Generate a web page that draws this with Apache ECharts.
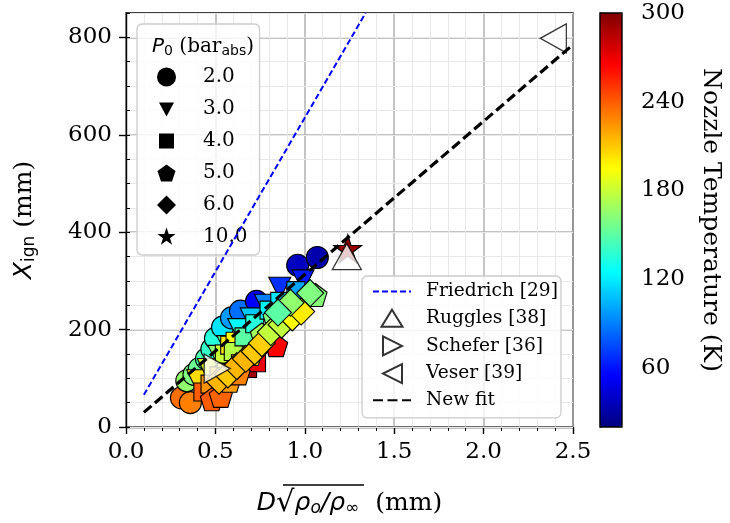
<!DOCTYPE html>
<html><head><meta charset="utf-8">
<script src="https://cdn.jsdelivr.net/npm/echarts@6/dist/echarts.min.js"></script>
<style>html,body{margin:0;padding:0;background:#fff}#c{width:730px;height:523px}</style>
</head><body><div id="c"></div>
<script>
// ---- data: [x = D*sqrt(rho_o/rho_inf) (mm), X_ign (mm), nozzle temperature (K)]
const p2 = [[0.31,60,235],[0.36,50,230],[0.34,95,165],[0.38,108,160],[0.41,120,155],[0.45,140,145],[0.48,160,140],[0.50,182,135],[0.54,205,118],[0.59,224,98],[0.64,238,85],[0.73,258,55],[0.96,332,38],[1.07,348,32]];
const p3 = [[0.40,95,205],[0.46,118,185],[0.52,145,165],[0.57,165,150],[0.63,200,125],[0.70,222,110],[0.78,250,90],[0.86,285,68],[0.99,300,62],[0.55,100,230],[0.62,135,210]];
const p4 = [[0.43,72,240],[0.47,88,225],[0.52,105,215],[0.56,112,205],[0.55,150,180],[0.58,168,200],[0.61,176,195],[0.60,155,175],[0.66,185,150],[0.72,212,135],[0.80,240,122],[0.86,258,118],[0.95,280,100],[0.68,120,290],[0.73,132,270],[0.79,175,195],[0.64,130,220]];
const p5 = [[0.48,57,240],[0.53,64,238],[0.58,95,222],[0.63,110,230],[0.70,150,205],[0.76,190,170],[0.83,225,160],[0.90,245,158],[1.06,271,162],[0.84,168,265]];
const p6 = [[0.52,95,215],[0.57,108,210],[0.62,125,215],[0.67,140,215],[0.72,155,210],[0.76,172,208],[0.81,195,178],[0.87,210,178],[0.93,225,195],[0.98,237,200],[0.92,255,165],[0.85,235,150],[1.03,275,160]];
const p10 = [[1.24,366,295]];
const ruggles = [[1.235,350]];
const schefer = [[0.51,120]];
const veser = [[2.39,798]];
const friedrichLine = [[0.1,66],[1.34,850]];
const newFitLine = [[0.1,30],[2.5,785]];
const pressureNames = ['2.0','3.0','4.0','5.0','6.0','10.0'];
const refNames = ['Friedrich [29]','Ruggles [38]','Schefer [36]','Veser [39]','New fit'];
const yTicks = [0,200,400,600,800];
const cbTicks = [60,120,180,240,300];
const tRange = [20,300];

// ---- styling
const jet = ['#000080','#0000ff','#0080ff','#00ffff','#80ff80','#ffff00','#ff8000','#ff0000','#800000'];
function hex2rgb(h){return [parseInt(h.substr(1,2),16),parseInt(h.substr(3,2),16),parseInt(h.substr(5,2),16)];}
const jetRGB = jet.map(hex2rgb);
function jetColor(T){
  let t = (T - tRange[0])/(tRange[1]-tRange[0]); t = Math.max(0, Math.min(1, t));
  const p = t*(jetRGB.length-1), i = Math.min(Math.floor(p), jetRGB.length-2), f = p - i;
  const a = jetRGB[i], b = jetRGB[i+1];
  return 'rgb(' + a.map((v,k)=>Math.round(v + (b[k]-v)*f)).join(',') + ')';
}
const SERIF = 'DejaVu Serif', SANS = 'DejaVu Sans';
const downTri = 'path://M0,0 L2,0 L1,1.8 Z';
const pent = 'path://M0,-1 L0.951,-0.309 L0.588,0.809 L-0.588,0.809 L-0.951,-0.309 Z';
const star = 'path://M0,-1 L0.2245,-0.309 L0.951,-0.309 L0.363,0.118 L0.588,0.809 L0,0.382 L-0.588,0.809 L-0.363,0.118 L-0.951,-0.309 L-0.2245,-0.309 Z';
const rightTri = 'path://M0,0 L1.8,1 L0,2 Z';
const leftTri = 'path://M1.8,0 L0,1 L1.8,2 Z';
// legend icons (padded boxes so shapes keep their size)
const lgDown = 'path://M0,0 M2,3 L17,3 L9.5,17 Z M19,19';
const lgRect = 'path://M0,0 M2,2 L17,2 L17,17 L2,17 Z M19,19';
const lgPent = 'path://M0,0 M9.5,1 L18.5,7.5 L15,18 L4,18 L0.5,7.5 Z M19,19';
const lgDiam = 'path://M0,0 M9.5,0 L19,9.5 L9.5,19 L0,9.5 Z M19,19';
const lgStar = 'path://M0,0 M9.5,0 L11.7,6.6 L18.6,6.6 L13,10.7 L15.1,17.2 L9.5,13.2 L3.9,17.2 L6,10.7 L0.4,6.6 L7.3,6.6 Z M19,19';
const lgUp = 'path://M0,0 M19,1 L29.5,18 L8.5,18 Z M38,19';
const lgRight = 'path://M0,0 M10,0 L29,9.5 L10,19 Z M38,19';
const lgLeft = 'path://M0,0 M29,0 L10,9.5 L29,19 Z M38,19';

const groups = [p2,p3,p4,p5,p6,p10];
const syms = ['circle',downTri,'rect',pent,'diamond',star];
const sizes = [22,22,18,23,27,28];
const lgIcons = ['circle',lgDown,lgRect,lgPent,lgDiam,lgStar];

const series = groups.map((g,i)=>({
  name: pressureNames[i], type:'scatter', symbol:syms[i], symbolSize:sizes[i],
  xAxisIndex:0, yAxisIndex:0, z:2, silent:true,
  data:g.map(d=>({value:d, itemStyle:{color:jetColor(d[2]), borderColor:'#000', borderWidth:1.1}})),
  itemStyle:{borderColor:'#000', borderWidth:1.1, opacity:1}
}));
const refStyle = {color:'#fff', borderColor:'#000', borderWidth:1.3};
const hidden = {color:'rgba(0,0,0,0)', borderColor:'rgba(0,0,0,0)', borderWidth:0};
series.push(
  {name:refNames[1], type:'scatter', data:ruggles, symbol:'triangle', symbolSize:[29,26], z:3, silent:true, itemStyle:refStyle},
  {name:refNames[2], type:'scatter', data:schefer, symbol:rightTri, symbolSize:[26,29], z:3, silent:true, itemStyle:refStyle},
  {name:refNames[3], type:'scatter', data:veser, symbol:leftTri, symbolSize:[26,29], z:3, silent:true, itemStyle:refStyle},
  {name:refNames[0], type:'line', data:friedrichLine, symbol:'none', z:4, silent:true, lineStyle:{color:'#0000ff', width:2, type:[6,3]}, itemStyle:{color:'#0000ff'}},
  {name:refNames[4], type:'line', data:newFitLine, symbol:'none', z:4, silent:true, lineStyle:{color:'#000', width:3.2, type:[10,4.5]}, itemStyle:{color:'#000'}},
  {type:'scatter', data:[], xAxisIndex:1, yAxisIndex:2}
);

const axisFont = {fontFamily:SERIF, fontSize:23, color:'#000'};
const option = {
  animation:false,
  backgroundColor:'#fff',
  grid:[
    {left:126, top:13, width:447, height:414, outerBoundsMode:'none', containLabel:false, show:true, borderColor:'#000', borderWidth:1.4, backgroundColor:'transparent'},
    {left:600, top:13, width:22, height:414, outerBoundsMode:'none', containLabel:false, show:true, borderColor:'#000', borderWidth:1.4, backgroundColor:'transparent', z:10}
  ],
  xAxis:[
    {type:'value', gridIndex:0, min:0, max:2.5, interval:0.5,
     axisLine:{show:true, onZero:false, lineStyle:{color:'#000', width:1.4}},
     axisTick:{show:true, inside:false, length:7, lineStyle:{color:'#000', width:1.4}},
     minorTick:{show:true, splitNumber:5, length:4, lineStyle:{color:'#000', width:1}},
     splitLine:{show:true, lineStyle:{color:'#b0b0b0', width:1.5}},
     minorSplitLine:{show:true, lineStyle:{color:'#e8e8e8', width:1}},
     axisLabel:Object.assign({margin:14, formatter:v=>v.toFixed(1)}, axisFont),
     name:'{it|D}{sq|√}{it|ρ}{sub|o}{it|/ρ}{sub|∞}{n|  (mm)}', nameLocation:'middle', nameGap:62,
     nameTextStyle:{rich:{
       it:{fontFamily:SANS, fontStyle:'italic', fontSize:25, color:'#000'},
       sq:{fontFamily:SANS, fontSize:29, color:'#000'},
       sub:{fontFamily:SANS, fontStyle:'italic', fontSize:17, color:'#000', padding:[10,0,0,0]},
       n:{fontFamily:SERIF, fontSize:25, color:'#000'}
     }}},
    {type:'value', gridIndex:1, min:0, max:1, show:false}
  ],
  yAxis:[
    {type:'value', gridIndex:0, min:0, max:850, interval:200,
     axisLine:{show:true, onZero:false, lineStyle:{color:'#000', width:1.4}},
     axisTick:{show:true, length:7, customValues:yTicks, lineStyle:{color:'#000', width:1.4}},
     splitLine:{show:true, lineStyle:{color:'#b0b0b0', width:1.5}},
     axisLabel:Object.assign({margin:14, customValues:yTicks}, axisFont),
     name:'{it|X}{sub|ign}{n| (mm)}', nameLocation:'middle', nameGap:88, nameRotate:90,
     nameTextStyle:{rich:{
       it:{fontFamily:SANS, fontStyle:'italic', fontSize:25, color:'#000'},
       sub:{fontFamily:SANS, fontSize:17, color:'#000', padding:[10,0,0,0]},
       n:{fontFamily:SERIF, fontSize:25, color:'#000'}
     }}},
    {type:'value', gridIndex:0, min:0, max:850, interval:50, z:1,
     axisLine:{show:false}, axisLabel:{show:false},
     axisTick:{show:true, length:4, lineStyle:{color:'#000', width:1}},
     splitLine:{show:true, lineStyle:{color:'#e8e8e8', width:1}}},
    {type:'value', gridIndex:1, position:'right', min:tRange[0], max:tRange[1],
     axisLine:{show:true, lineStyle:{color:'#000', width:1.4}},
     axisTick:{show:true, length:7, customValues:cbTicks, lineStyle:{color:'#000', width:1.4}},
     splitLine:{show:false},
     axisLabel:Object.assign({margin:19, customValues:cbTicks}, axisFont),
     name:'Nozzle Temperature (K)', nameLocation:'middle', nameGap:76, nameRotate:-90,
     nameTextStyle:{fontFamily:SERIF, fontSize:25, color:'#000'}}
  ],
  visualMap:{type:'continuous', min:tRange[0], max:tRange[1], dimension:2, seriesIndex:[series.length-1],
    calculable:false, show:true, orient:'vertical', left:600, top:13, itemWidth:22, itemHeight:414,
    padding:0, inRange:{color:jet}, hoverLink:false},
  title:{text:'{it|P}{sub|0}{n| (bar}{sub2|abs}{n|)}', left:147, top:31, z:10,
    textStyle:{fontWeight:'normal', rich:{
      it:{fontFamily:SANS, fontStyle:'italic', fontWeight:'normal', fontSize:20, color:'#000'},
      sub:{fontFamily:SANS, fontWeight:'normal', fontSize:14, color:'#000', padding:[8,0,0,0]},
      sub2:{fontFamily:SANS, fontWeight:'normal', fontSize:14, color:'#000', padding:[8,0,0,0]},
      n:{fontFamily:SERIF, fontWeight:'normal', fontSize:20, color:'#000'}
    }}},
  legend:[
    {orient:'vertical', left:137, top:24, padding:[43,12,8,20], itemWidth:19, itemHeight:19, itemGap:12,
     backgroundColor:'rgba(255,255,255,0.8)', borderColor:'#cccccc', borderWidth:1.3, borderRadius:5,
     selectedMode:false,
     data:pressureNames.map((n,i)=>({name:n, icon:lgIcons[i]})),
     itemStyle:{color:'#000', borderWidth:0},
     textStyle:{fontFamily:SERIF, fontSize:20, color:'#000', padding:[0,0,0,22]}},
    {orient:'vertical', left:362, top:276, padding:[6,3,8,10], itemWidth:38, itemHeight:19, itemGap:6.7,
     backgroundColor:'rgba(255,255,255,0.8)', borderColor:'#cccccc', borderWidth:1.3, borderRadius:5,
     selectedMode:false,
     data:[{name:refNames[0], itemStyle:hidden},{name:refNames[1], icon:lgUp},{name:refNames[2], icon:lgRight},{name:refNames[3], icon:lgLeft},{name:refNames[4], itemStyle:hidden}],
     textStyle:{fontFamily:SERIF, fontSize:18.6, color:'#000', padding:[0,0,0,10]}}
  ],
  graphic:[
    {type:'line', z:100, shape:{x1:283, y1:485, x2:364, y2:485}, style:{stroke:'#000', lineWidth:1.3}}
  ],
  series:series
};
const chart = echarts.init(document.getElementById('c'), null, {renderer:'canvas'});
chart.setOption(option);
</script></body></html>
